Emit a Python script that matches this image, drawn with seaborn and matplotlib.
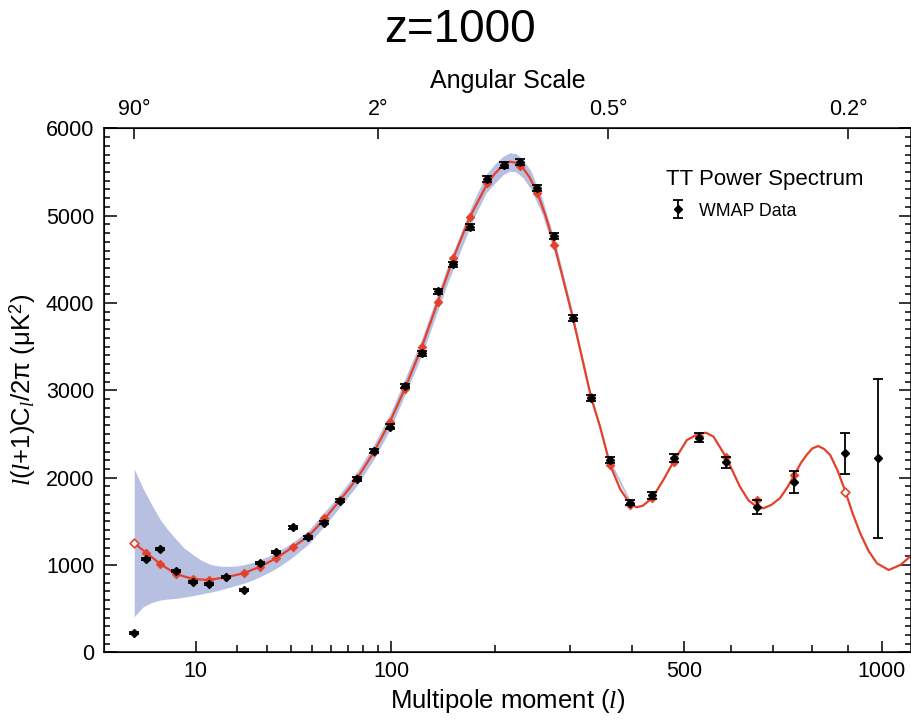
import numpy as np
import pandas as pd
import matplotlib
matplotlib.use("Agg")
import matplotlib.pyplot as plt
from matplotlib.ticker import FixedLocator, NullFormatter, MultipleLocator
import seaborn as sns

# ---------------- data ----------------
data_l = [2, 3, 4.5, 6.6, 9.5, 12.8, 17, 22, 27.5, 33.5, 40.5, 48, 56, 65.5, 76, 87.5,
          99, 111, 125.5, 140, 155, 172, 191.5, 211, 231, 253.5, 277, 304, 332, 363,
          397.5, 437, 480, 530, 588, 659, 753, 892, 988]
data_v = [220, 1074, 1181, 933, 807, 784, 861, 715, 1028, 1154, 1433, 1320, 1486, 1738,
          1986, 2306, 2585, 3050, 3425, 4134, 4443, 4874, 5416, 5583, 5611, 5313, 4767,
          3832, 2909, 2203, 1715, 1800, 2223, 2459, 2177, 1669, 1955, 2280, 2223]
data_err = [12, 12, 12, 12, 12, 12, 12, 12, 12, 12, 14, 16, 18, 20, 22, 24,
            26, 28, 30, 32, 32, 34, 34, 36, 36, 36, 36, 36, 34, 34,
            32, 38, 44, 52, 65, 80, 124, 236, 908]

model_pts_l = [2, 3, 4.5, 6.6, 9.5, 12.8, 17, 22, 27.5, 33.5, 40.5, 48, 56, 65.5, 76,
               87.5, 99, 111, 125.5, 140, 155, 172, 191.5, 211, 231, 253.5, 277, 304,
               332, 363, 397.5, 437, 480, 530, 588, 659, 753, 892]
model_pts_v = [1250, 1142, 1013, 898, 841, 830, 862, 906, 982, 1078, 1204, 1330, 1536,
               1750, 1995, 2300, 2635, 3020, 3500, 4015, 4512, 4981, 5370, 5580, 5568,
               5263, 4664, 3830, 2920, 2146, 1690, 1765, 2181, 2480, 2241, 1746, 2032,
               1841]
model_open = [True] + [False] * 36 + [True]

curve_l = [2, 3, 4.5, 6.6, 9.5, 12.8, 17, 22, 27.5, 33.5, 40.5, 48, 56, 65.5, 76, 87.5,
           99, 111, 125.5, 140, 155, 172, 191.5, 200, 210, 218, 226, 235, 243, 253.5,
           265, 277, 290, 304, 318, 332, 346.5, 363, 380, 397.5, 409, 420, 437, 458,
           480, 505, 530, 545, 561, 588, 620, 640, 659, 675, 695, 716, 735, 753, 770,
           785, 800, 816, 832, 849, 870, 892, 912, 935, 960, 985, 1021, 1058, 1095]
curve_v = [1250, 1142, 1013, 898, 841, 830, 862, 906, 982, 1078, 1204, 1330, 1520,
           1750, 1995, 2300, 2635, 3020, 3500, 4015, 4512, 4981, 5370, 5480, 5580, 5618,
           5605, 5540, 5440, 5263, 4990, 4664, 4260, 3830, 3370, 2920, 2585, 2146, 1870,
           1700, 1662, 1680, 1765, 1970, 2200, 2432, 2505, 2515, 2470, 2241, 1898, 1740,
           1669, 1650, 1690, 1765, 1890, 2032, 2170, 2261, 2335, 2363, 2330, 2261, 2080,
           1841, 1600, 1364, 1160, 1021, 944, 1002, 1116]

band_l = [2, 2.7, 3.5, 4.5, 5.5, 6.7, 8, 9.5, 11, 13, 15, 17, 20, 22, 25, 27.5, 30, 34,
          40, 48, 56, 65, 76, 88, 100, 125, 150, 175, 190, 200, 210, 218, 226, 235, 245,
          260, 280, 300, 330, 360, 400]
band_hi = [2100, 1880, 1700, 1520, 1400, 1290, 1190, 1120, 1060, 1010, 990, 985, 990,
           1005, 1030, 1060, 1095, 1155, 1250, 1395, 1600, 1810, 2075, 2400, 2755, 3580,
           4445, 5140, 5470, 5590, 5680, 5720, 5710, 5640, 5510, 5200, 4645, 4010, 3025,
           2245, 1710]
band_lo = [410, 520, 570, 600, 612, 620, 635, 650, 668, 689, 710, 735, 770, 792, 830,
           868, 905, 970, 1080, 1240, 1440, 1660, 1915, 2230, 2575, 3390, 4245, 4940,
           5260, 5370, 5470, 5510, 5500, 5430, 5300, 5020, 4500, 3900, 2945, 2185, 1670]

x_major = [10, 100, 500, 1000]
x_minor = [20, 30, 40, 50, 60, 70, 80, 90, 200, 300, 400, 600, 700, 800, 900]
ang_labels = ["90°", "2°", "0.5°", "0.2°"]
ang_deg = [90, 2, 0.5, 0.2]

# ---------------- style ----------------
sns.set_style("ticks")
plt.rcParams["font.family"] = ["Liberation Sans", "DejaVu Sans"]
plt.rcParams["mathtext.fontset"] = "custom"
plt.rcParams["mathtext.rm"] = "Liberation Sans"
plt.rcParams["mathtext.it"] = "Liberation Serif:italic"
plt.rcParams["mathtext.bf"] = "Liberation Sans:bold"
for k in ["text.color", "axes.labelcolor", "xtick.color", "ytick.color",
          "axes.edgecolor"]:
    plt.rcParams[k] = "black"

RED = "#e5402a"
BAND = "#b8c0e2"

fig = plt.figure(figsize=(9.12, 7.2), dpi=100)
ax = fig.add_axes([0.114, 0.0938, 0.885, 0.728])

fwd = lambda x: np.sign(x) * np.abs(x) ** 0.4
inv = lambda y: np.sign(y) * np.abs(y) ** 2.5
ax.set_xscale("function", functions=(fwd, inv))

ax.fill_between(band_l, band_lo, band_hi, color=BAND, linewidth=0, zorder=1)

curve_df = pd.DataFrame({"l": curve_l, "v": curve_v})
sns.lineplot(data=curve_df, x="l", y="v", sort=False, color=RED, linewidth=1.6,
             ax=ax, zorder=2)

mdf = pd.DataFrame({"l": model_pts_l, "v": model_pts_v, "open": model_open})
sns.scatterplot(data=mdf[~mdf["open"]], x="l", y="v", marker="D", s=20, color=RED,
                edgecolor=RED, linewidth=0.5, ax=ax, zorder=3)
sns.scatterplot(data=mdf[mdf["open"]], x="l", y="v", marker="D", s=20, color="white",
                edgecolor=RED, linewidth=1.2, ax=ax, zorder=3)

eb = ax.errorbar(data_l, data_v, yerr=data_err, fmt="D", color="black", markersize=4.2,
                 ecolor="black", elinewidth=1.3, capsize=3.5, capthick=1.3, zorder=4)

ax.set_xlim(0.456, 1092)
ax.set_ylim(0, 6000)

ax.xaxis.set_major_locator(FixedLocator(x_major))
ax.xaxis.set_minor_locator(FixedLocator(x_minor))
ax.xaxis.set_minor_formatter(NullFormatter())
ax.set_xticklabels([str(v) for v in x_major])
ax.yaxis.set_major_locator(MultipleLocator(1000))
ax.yaxis.set_minor_locator(MultipleLocator(100))

ax.tick_params(axis="x", which="both", direction="in", top=False, bottom=True,
               labelsize=15.5, pad=6, width=1.1)
ax.tick_params(axis="x", which="major", length=8)
ax.tick_params(axis="x", which="minor", length=5)
ax.tick_params(axis="y", which="both", direction="in", left=True, right=True,
               labelsize=15.5, pad=7, width=1.1)
ax.tick_params(axis="y", which="major", length=9)
ax.tick_params(axis="y", which="minor", length=4.5)
for s in ax.spines.values():
    s.set_linewidth(1.1)
    s.set_visible(True)

ax.set_xlabel("Multipole moment ($l$)", fontsize=18.5, labelpad=4)
ax.set_ylabel("$l(l$+1)C$_l$/2$\\mathrm{\\pi}$ ($\\mathrm{\\mu}$K$^2$)", fontsize=18.5,
              labelpad=6)

# top axis: angular scale
ax2 = ax.twiny()
ax2.set_xscale("function", functions=(fwd, inv))
ax2.set_xlim(ax.get_xlim())
ax2.xaxis.set_major_locator(FixedLocator([180.0 / d for d in ang_deg]))
ax2.xaxis.set_minor_locator(FixedLocator([]))
ax2.set_xticklabels(ang_labels)
ax2.tick_params(axis="x", which="major", direction="in", length=8, width=1.1,
                labelsize=15.5, pad=6)
ax2.set_xlabel("Angular Scale", fontsize=18, labelpad=8)
ax2.set_ylim(0, 6000)
ax2.yaxis.set_visible(False)

fig.text(666 / 912, 1 - 180 / 720, "TT Power Spectrum", ha="left", va="center",
         fontsize=16)
leg = ax.legend(handles=[eb], labels=["WMAP Data"],
                loc="center left", bbox_to_anchor=(671 / 912, 1 - 211 / 720),
                bbox_transform=fig.transFigure, frameon=False, fontsize=12.8,
                handlelength=0.8, handletextpad=0.75,
                borderpad=0, borderaxespad=0)

fig.text(460 / 912, 1 - 30 / 720, "z=1000", ha="center", va="center", fontsize=33)

fig.savefig("out.png", dpi=100)
